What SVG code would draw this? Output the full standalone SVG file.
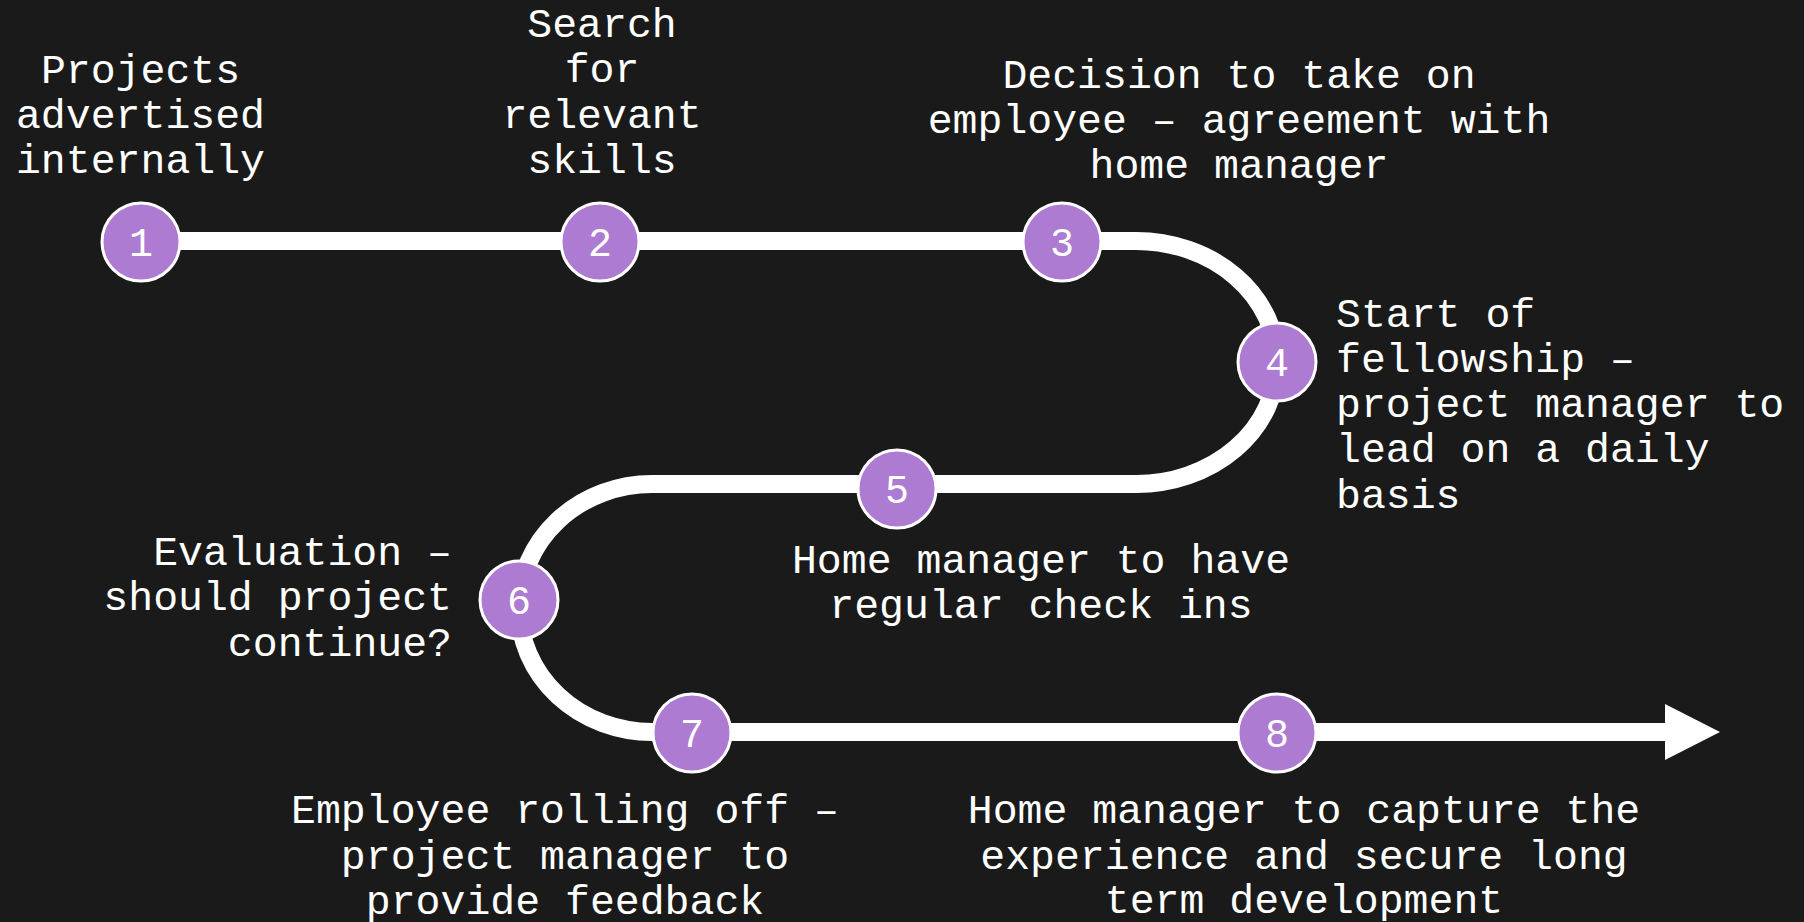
<svg xmlns="http://www.w3.org/2000/svg" width="1804" height="922" viewBox="0 0 1804 922">
<style>
.lbl{font-family:"Liberation Mono","Courier New",monospace;font-size:41.5px;fill:#FFFFFF}
.c{text-anchor:middle}
.s{text-anchor:start}
.e{text-anchor:end}
.node circle{fill:#AD7BD1;stroke:#FFFFFF;stroke-width:3}
.num{font-family:"Liberation Mono","Courier New",monospace;font-size:40px;fill:#FFFFFF;text-anchor:middle}
.track{fill:none;stroke:#FFFFFF;stroke-width:18}
</style>
<rect width="1804" height="922" fill="#1A1A1A"/>
<g id="connectors">
<path class="track" d="M 141 241 L 1136 241 A 141 121.5 0 0 1 1136 484 L 652 484 A 133 124 0 0 0 652 732 L 1666 732"/>
<polygon points="1665,704 1720,732 1665,760" fill="#FFFFFF"/>
</g>
<g id="node1" class="node">
<circle cx="141" cy="242" r="39"/>
<text class="num" x="141" y="256">1</text>
<text class="lbl c"><tspan x="140.5" y="83">Projects</tspan><tspan x="140.5" y="128">advertised</tspan><tspan x="140.5" y="173">internally</tspan></text>
</g>
<g id="node2" class="node">
<circle cx="600" cy="242" r="39"/>
<text class="num" x="600" y="256">2</text>
<text class="lbl c"><tspan x="602" y="37">Search</tspan><tspan x="602" y="82">for</tspan><tspan x="602" y="128">relevant</tspan><tspan x="602" y="173">skills</tspan></text>
</g>
<g id="node3" class="node">
<circle cx="1062" cy="242" r="39"/>
<text class="num" x="1062" y="256">3</text>
<text class="lbl c"><tspan x="1239" y="88">Decision to take on</tspan><tspan x="1239" y="133">employee – agreement with</tspan><tspan x="1239" y="178">home manager</tspan></text>
</g>
<g id="node4" class="node">
<circle cx="1277" cy="362" r="39"/>
<text class="num" x="1277" y="376">4</text>
<text class="lbl s"><tspan x="1336" y="327">Start of</tspan><tspan x="1336" y="372">fellowship –</tspan><tspan x="1336" y="417">project manager to</tspan><tspan x="1336" y="462">lead on a daily</tspan><tspan x="1336" y="508">basis</tspan></text>
</g>
<g id="node5" class="node">
<circle cx="897" cy="489" r="39"/>
<text class="num" x="897" y="503">5</text>
<text class="lbl c"><tspan x="1041" y="573">Home manager to have</tspan><tspan x="1041" y="618">regular check ins</tspan></text>
</g>
<g id="node6" class="node">
<circle cx="519" cy="600" r="39"/>
<text class="num" x="519" y="614">6</text>
<text class="lbl e"><tspan x="452" y="565">Evaluation –</tspan><tspan x="452" y="610">should project</tspan><tspan x="452" y="656">continue?</tspan></text>
</g>
<g id="node7" class="node">
<circle cx="692" cy="733" r="39"/>
<text class="num" x="692" y="747">7</text>
<text class="lbl c"><tspan x="565" y="823">Employee rolling off –</tspan><tspan x="565" y="869">project manager to</tspan><tspan x="565" y="914">provide feedback</tspan></text>
</g>
<g id="node8" class="node">
<circle cx="1277" cy="733" r="39"/>
<text class="num" x="1277" y="747">8</text>
<text class="lbl c"><tspan x="1304" y="823">Home manager to capture the</tspan><tspan x="1304" y="869">experience and secure long</tspan><tspan x="1304" y="913">term development</tspan></text>
</g>
</svg>
